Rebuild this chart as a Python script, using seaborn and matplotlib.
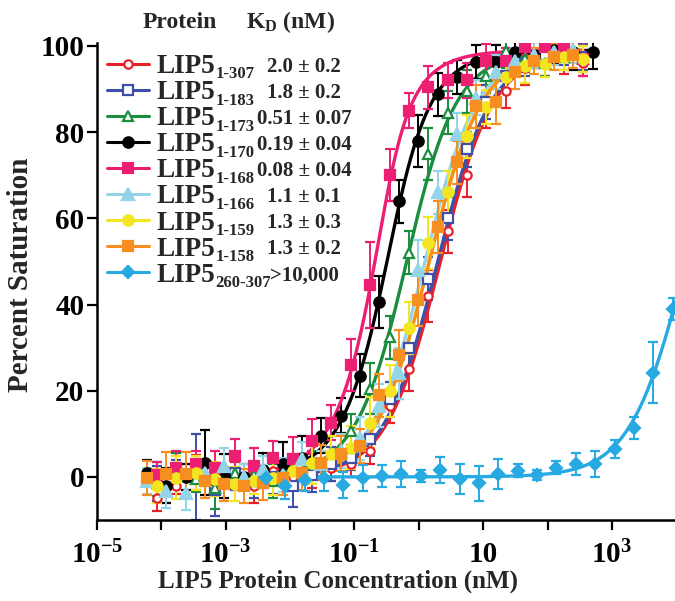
import numpy as np
import matplotlib
matplotlib.use('Agg')
import matplotlib.pyplot as plt
import seaborn as sns
from matplotlib.lines import Line2D
from matplotlib.ticker import FixedLocator, FixedFormatter, NullLocator

# dilution series (nM)
conc_a = [8.58e-5, 1.717e-4, 3.433e-4, 6.866e-4, 1.373e-3, 2.747e-3, 5.493e-3, 0.01099,
          0.02197, 0.04395, 0.08789, 0.1758, 0.3516, 0.7031, 1.406, 2.813, 5.625, 11.25,
          22.5, 45.0, 90.0, 180.0, 360.0]
conc_b = [5.96e-5, 1.192e-4, 2.384e-4, 4.768e-4, 9.537e-4, 1.907e-3, 3.815e-3, 7.629e-3,
          0.01526, 0.03052, 0.06104, 0.1221, 0.2441, 0.4883, 0.9766, 1.953, 3.906, 7.813,
          15.63, 31.25, 62.5, 125.0, 250.0]
conc_black = conc_b + [500.0]
conc_c = [4.196e-3, 8.392e-3, 0.01678, 0.03357, 0.06714, 0.1343, 0.2686, 0.5371, 1.074,
          2.148, 4.297, 8.594, 17.19, 34.38, 68.75, 137.5, 275.0, 550.0, 1100.0, 2200.0,
          4400.0, 8800.0]

y_307 = [-5.0, -2.0, 1.0, -1.5, 0.5, -2.0, 1.4, 0.0, 1.4, 2.0, 3.0, 6.0, 16.5, 25.0, 42.0,
         57.0, 70.0, 86.0, 89.5, 95.0, 96.0, 97.5, 96.0]
e_307 = [3, 2, 4, 3, 3, 4, 3, 3, 4, 3, 3, 3, 4, 5, 6, 5, 5, 5, 4, 4, 3, 4, 3]
y_183 = [-1.5, 1.0, 0.0, -3.0, 1.0, -1.0, 0.0, -2.0, 0.5, 3.0, 4.5, 8.9, 18.0, 30.0, 46.0,
         60.0, 76.0, 87.0, 93.0, 96.0, 98.0, 98.5, 97.5]
e_183 = [4, 3, 10, 6, 4, 4, 4, 5, 4, 4, 3, 4, 4, 5, 5, 5, 4, 4, 4, 3, 3, 3, 3]
y_173 = [-0.5, 1.5, -0.5, -2.5, 1.0, 0.5, -1.0, 2.0, 3.0, 5.5, 10.7, 20.5, 32.4, 52.0, 75.0,
         84.5, 89.5, 93.0, 98.8, 97.0, 96.0, 97.4, 97.0]
e_173 = [4, 4, 3, 5, 3, 3, 4, 3, 3, 4, 4, 6, 5, 5, 6, 5, 5, 4, 4, 3, 3, 3, 3]
y_170 = [1.0, -2.0, 0.0, 3.3, 0.2, 0.0, 1.5, 3.0, 4.5, 9.6, 14.2, 23.5, 40.6, 64.0, 78.0,
         88.8, 92.8, 96.3, 96.3, 98.6, 98.0, 99.0, 98.5, 98.6]
e_170 = [3, 4, 3, 7.6, 5, 3, 4, 5, 5, 4, 4, 5, 6, 5, 6, 5, 4, 4, 4, 3, 3, 3, 4, 4]
y_168 = [0.5, 2.1, 3.0, 2.1, 4.9, 2.6, 4.4, 4.2, 8.4, 12.6, 26.0, 44.5, 70.0, 85.0, 90.4,
         92.0, 92.0, 96.5, 96.5, 99.8, 99.8, 99.8, 97.0]
e_168 = [3, 4, 3, 4, 4, 4, 4, 5, 5, 4, 6, 10, 6, 4, 5, 4, 4, 4, 3, 2, 2, 2, 4]
y_166 = [-1.0, -3.3, -3.7, 1.0, 2.6, 0.0, 1.9, 0.5, 4.2, 3.0, 6.0, 9.0, 16.5, 24.0, 48.0,
         66.0, 79.5, 88.0, 94.0, 96.5, 98.0, 98.5, 99.0]
e_166 = [3, 4, 4, 3, 4, 3, 3, 4, 4, 3, 4, 5, 5, 6, 7, 5, 5, 4, 4, 3, 3, 3, 3]
y_159 = [-2.1, -0.2, 0.9, -0.5, -1.6, -1.0, -0.2, 1.4, 3.3, 5.4, 6.8, 12.6, 20.0, 34.5, 54.3,
         66.0, 79.0, 85.8, 92.8, 95.3, 95.8, 97.5, 97.0]
e_159 = [4, 5, 4, 4, 4, 3, 4, 4, 5, 4, 5, 6, 6, 6, 6, 5, 5, 4, 4, 4, 3, 3, 3]
y_158 = [-0.2, 0.7, 0.7, -0.9, -1.6, -2.1, -1.4, -0.2, 1.0, 3.3, 5.4, 7.2, 18.9, 28.2, 41.0,
         58.0, 73.0, 86.0, 87.0, 94.0, 96.5, 97.5, 98.0]
e_158 = [4, 5, 5, 4, 4, 4, 4, 4, 4, 4, 4, 4, 5, 6, 6, 6, 5, 5, 5, 4, 3, 3, 3]
y_260 = [-0.2, -2.2, -0.7, -0.2, -1.8, -0.2, 0.2, 0.7, 0.2, 1.6, -0.5, -1.5, 0.7, 1.4, 0.5,
         2.1, 3.0, 3.0, 6.5, 11.4, 24.2, 38.9]
e_260 = [2, 3, 2.5, 3, 3, 3, 2.5, 3, 1.5, 3, 3.5, 4, 3.5, 1.5, 1.2, 1.5, 2.5, 3, 2, 2.5, 7, 2.5]

proteins = ['1‐307', '1‐183', '1‐173', '1‐170', '1‐168', '1‐166', '1‐159', '1‐158', '260‐307']
kd_labels = ['2.0 ± 0.2', '1.8 ± 0.2', '0.51 ± 0.07', '0.19 ± 0.04', '0.08 ± 0.04',
             '1.1 ± 0.1', '1.3 ± 0.3', '1.3 ± 0.2', '>10,000']
kd_fit = [2.0, 1.8, 0.51, 0.19, 0.08, 1.1, 1.3, 1.3, 14000.0]
xs_all = [conc_a, conc_a, conc_a, conc_black, conc_a, conc_b, conc_a, conc_b, conc_c]
ys_all = [y_307, y_183, y_173, y_170, y_168, y_166, y_159, y_158, y_260]
es_all = [e_307, e_183, e_173, e_170, e_168, e_166, e_159, e_158, e_260]
colors = ['#e8202a', '#3f4fa8', '#1b8d3e', '#000000', '#ec1f73', '#93d4e8', '#f3e620',
          '#f68f1f', '#27a9e1']
markers = ['o', 's', '^', 'o', 's', '^', 'o', 's', 'D']
filled = [False, False, False, True, True, True, True, True, True]
msizes = [6, 6.5, 7, 7.5, 7.5, 8, 7.5, 7.5, 6]


def binding(L, kd, r=0.25, top=99.0):
    s = r + L + kd
    return top * (s - np.sqrt(s * s - 4 * r * L)) / (2 * r)


sns.set_style("ticks")
plt.rcParams['font.family'] = ['Liberation Serif', 'DejaVu Serif']
plt.rcParams['font.weight'] = 'bold'
plt.rcParams['axes.labelweight'] = 'bold'
plt.rcParams['mathtext.fontset'] = 'custom'
plt.rcParams['mathtext.rm'] = 'Liberation Serif:bold'
plt.rcParams['mathtext.it'] = 'Liberation Serif:bold'
plt.rcParams['mathtext.bf'] = 'Liberation Serif:bold'
plt.rcParams['mathtext.default'] = 'rm'

fig = plt.figure(figsize=(6.75, 6.01), dpi=100)
ax = fig.add_axes([0.1437, 0.1348, 0.8563, 0.7937])
ax.set_xscale('log')

for i in range(len(ys_all)):
    x = np.array(xs_all[i])
    x_end = 1e4 if i == 8 else x[-1]
    xs = np.logspace(np.log10(x[0]), np.log10(x_end), 300)
    sns.lineplot(x=xs, y=binding(xs, kd_fit[i]), color=colors[i], linewidth=2.4, ax=ax)
    ax.errorbar(x, ys_all[i], yerr=es_all[i], fmt=markers[i], color=colors[i],
                mfc=colors[i] if filled[i] else 'white', mec=colors[i], mew=1.6,
                ms=msizes[i], capsize=3.5, elinewidth=1.4, capthick=1.4)

ax.set_xlim(1e-5, 10 ** 3.98)
ax.set_ylim(-10, 100.7)
ax.xaxis.set_major_locator(FixedLocator(10.0 ** np.arange(-5, 4)))
ax.xaxis.set_major_formatter(FixedFormatter(
    [r'10$^{-5}$', '', r'10$^{-3}$', '', r'10$^{-1}$', '', '10', '', r'10$^{3}$']))
ax.xaxis.set_minor_locator(NullLocator())
ax.set_yticks([0, 20, 40, 60, 80, 100])
ax.tick_params(axis='both', labelsize=21, direction='out', length=7, width=1.6, colors='black')
ax.tick_params(axis='x', pad=8)
ax.tick_params(axis='y', pad=2)
sns.despine(ax=ax)
for s in ['left', 'bottom']:
    ax.spines[s].set_linewidth(1.8)
    ax.spines[s].set_color('black')

ax.set_xlabel("LIP5 Protein Concentration (nM)", fontsize=18, labelpad=0)
ax.xaxis.label.set_x(0.417)
ax.set_ylabel("Percent Saturation", fontsize=21, labelpad=5)
ax.yaxis.label.set_y(0.514)

handles = [Line2D([], [], color=colors[i], marker=markers[i], lw=2.2, mew=1.6, ms=msizes[i],
                  mfc=colors[i] if filled[i] else 'white', mec=colors[i])
           for i in range(len(colors))]
leg_size = 19.5
leg = ax.legend(handles, ['LIP5'] * len(handles), loc='upper left',
                bbox_to_anchor=(107 / 675, 1 - 54 / 601),
                bbox_transform=fig.transFigure, frameon=False, fontsize=leg_size,
                handlelength=1.55, handletextpad=0.27, labelspacing=0.04,
                borderpad=0, borderaxespad=0)

fig.text(180 / 675, 1 - 22 / 601, 'Protein', ha='center', va='center', fontsize=17)
fig.text(291 / 675, 1 - 22 / 601, r'K$_{D}$ (nM)', ha='center', va='center', fontsize=17)

fig.canvas.draw()
renderer = fig.canvas.get_renderer()
inv = fig.transFigure.inverted()
descent = 0.217 * leg_size * 100 / 72
for txt, sub, kd in zip(leg.get_texts(), proteins, kd_labels):
    bb = txt.get_window_extent(renderer)
    x1, y_sub = inv.transform((bb.x1 + 0.5, bb.y0 + 0.5))
    _, y_base = inv.transform((bb.x0, bb.y0 + descent + 1.5))
    fig.text(x1, y_sub, sub, ha='left', va='baseline', fontsize=12)
    fig.text(304 / 675, y_base, kd, ha='center', va='baseline', fontsize=15)

fig.savefig('out.png', dpi=100)
